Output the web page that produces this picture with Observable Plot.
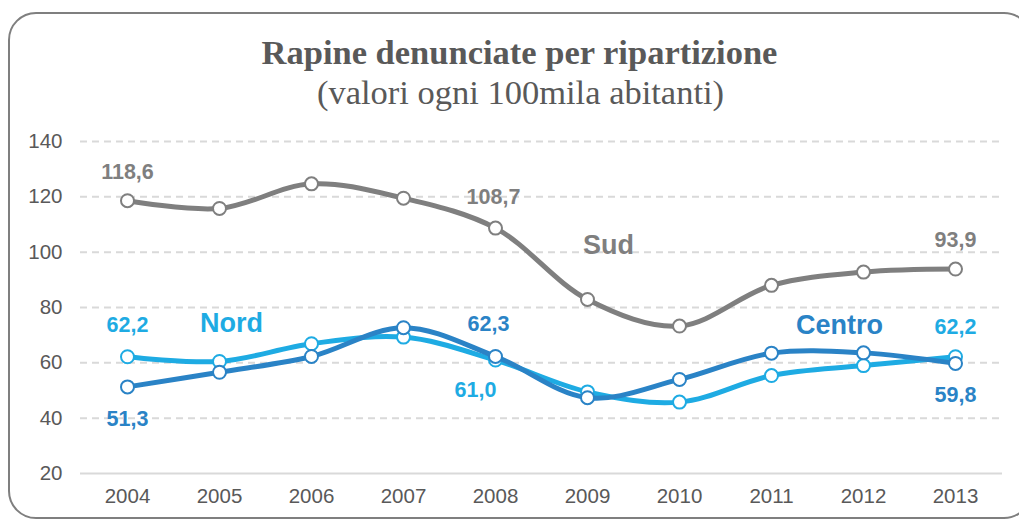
<!DOCTYPE html>
<html>
<head>
<meta charset="utf-8">
<script src="https://cdn.jsdelivr.net/npm/d3@7"></script>
<script src="https://cdn.jsdelivr.net/npm/@observablehq/plot@0.6"></script>
<style>
  html, body { margin: 0; padding: 0; background: #fff; }
  #page { position: relative; width: 1019px; height: 521px; overflow: hidden; }
  #frame { position: absolute; left: 8px; top: 12px; width: 1024px; height: 507px;
           border: 2px solid #7f7f7f; border-radius: 28px; box-sizing: border-box; }
  #head { position: relative; height: 125px; text-align: center; color: #595959;
          font-family: "Liberation Serif", "Times New Roman", serif; }
  #title { position: absolute; left: 20px; right: 0; top: 33px; font-size: 34.5px; font-weight: bold; line-height: 38px; }
  #subtitle { position: absolute; left: 22px; right: 0; top: 73px; font-size: 34.5px; line-height: 38px; }
  #chart { position: relative; }
  #chart svg { display: block; overflow: visible; }
</style>
</head>
<body>
<div id="page">
  <div id="frame"></div>
  <div id="head">
    <div id="title">Rapine denunciate per ripartizione</div>
    <div id="subtitle">(valori ogni 100mila abitanti)</div>
  </div>
  <div id="chart"></div>
</div>
<script>
// ---- data ----
const years  = [2004, 2005, 2006, 2007, 2008, 2009, 2010, 2011, 2012, 2013];
const sud    = [118.6, 115.8, 124.7, 119.5, 108.7, 82.9, 73.3, 88.0, 92.8, 93.9];
const nord   = [62.2, 60.5, 66.9, 69.3, 61.0, 49.5, 45.8, 55.4, 59.0, 62.2];
const centro = [51.3, 56.6, 62.3, 72.7, 62.3, 47.4, 54.0, 63.5, 63.6, 59.8];
const seriesNames = ["Sud", "Nord", "Centro"];
const yTicks = [20, 40, 60, 80, 100, 120, 140];
// years whose value is written on the chart
const sudLabelYears    = [2004, 2008, 2013];
const nordLabelYears   = [2004, 2008, 2013];
const centroLabelYears = [2004, 2008, 2013];

// ---- build table ----
const valuesBy = {Sud: sud, Nord: nord, Centro: centro};
const rows = seriesNames.flatMap(s => years.map((yr, i) => ({series: s, year: yr, value: valuesBy[s][i]})));
const labelYearsBy = {Sud: sudLabelYears, Nord: nordLabelYears, Centro: centroLabelYears};
const colors = {Sud: "#7f7f7f", Nord: "#1eabe3", Centro: "#2a83c6"};
const fmt = v => d3.format(".1f")(v).replace(".", ",");

// label offsets (style)
const labelOffset = {
  "Sud-2004": [0, -29], "Sud-2008": [-2, -31], "Sud-2013": [0, -29],
  "Nord-2004": [0, -32], "Nord-2008": [-20, 30], "Nord-2013": [0, -30],
  "Centro-2004": [0, 32], "Centro-2008": [-7, -32], "Centro-2013": [0, 32]
};
// series name anchors: [year, dx, dy]
const nameAnchor = {Sud: [2009, 21, -54], Nord: [2005, 12, -38], Centro: [2011, 68, -28]};

const marks = [
  Plot.ruleY(yTicks.filter(t => t !== yTicks[0]), {stroke: "#d9d9d9", strokeWidth: 2, strokeDasharray: "7,5"}),
  Plot.ruleY([yTicks[0]], {stroke: "#d9d9d9", strokeWidth: 2}),
  Plot.axisY({ticks: yTicks, tickSize: 0, tickPadding: 18, label: null, fontSize: 20.5}),
  Plot.axisX({tickSize: 0, tickPadding: 15, label: null, tickFormat: d => String(d), fontSize: 20.5})
];

for (const s of seriesNames) {
  const data = rows.filter(r => r.series === s);
  marks.push(Plot.line(data, {x: "year", y: "value", stroke: colors[s], strokeWidth: 5, curve: "catmull-rom"}));
  marks.push(Plot.dot(data, {x: "year", y: "value", r: 6.5, fill: "white", stroke: colors[s], strokeWidth: 2}));
}
for (const s of seriesNames) {
  const data = rows.filter(r => r.series === s && labelYearsBy[s].includes(r.year));
  for (const d of data) {
    const [dx, dy] = labelOffset[s + "-" + d.year];
    marks.push(Plot.text([d], {x: "year", y: "value", text: r => fmt(r.value), dx, dy,
      fill: colors[s], fontWeight: "bold", fontSize: 21.5}));
  }
  const [yr, dx, dy] = nameAnchor[s];
  const p = rows.find(r => r.series === s && r.year === yr);
  marks.push(Plot.text([p], {x: "year", y: "value", text: () => s, dx, dy,
    fill: colors[s], fontWeight: "bold", fontSize: 27}));
}

const chart = Plot.plot({
  width: 1019,
  height: 396,
  marginTop: 16,
  marginBottom: 48,
  marginLeft: 80,
  marginRight: 17,
  x: {type: "point", domain: years, padding: 0.5},
  y: {domain: [20, 140]},
  style: {fontFamily: "'Liberation Sans', Arial, sans-serif", fontSize: "20px", color: "#595959", background: "transparent", overflow: "visible"},
  marks
});
document.getElementById("chart").appendChild(chart);
</script>
</body>
</html>
